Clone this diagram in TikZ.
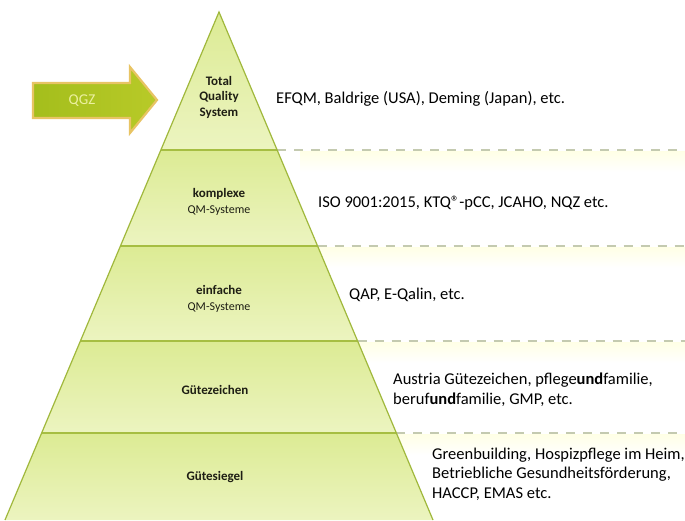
\documentclass[tikz,border=0pt]{standalone}
\usepackage{fontspec}
\setmainfont{Carlito}
\definecolor{pyrtop}{RGB}{220,235,148}
\definecolor{pyrbot}{RGB}{236,244,192}
\definecolor{pyrline}{RGB}{166,190,66}
\definecolor{pyredge}{RGB}{160,184,60}
\definecolor{dashc}{RGB}{196,202,176}
\definecolor{arrowfill}{RGB}{164,190,28}
\definecolor{arrowfill2}{RGB}{184,202,40}
\definecolor{arrowglow}{RGB}{232,196,100}
\definecolor{arrowtxt}{RGB}{236,240,160}
\definecolor{labtxt}{RGB}{30,30,20}
\tikzset{
  bandfill/.style={top color=pyrtop, bottom color=pyrbot, draw=none},
  levelline/.style={draw=pyrline, line width=1.8pt},
  dashline/.style={draw=dashc, line width=1.3pt, dash pattern=on 9pt off 8pt},
  righttext/.style={font=\fontsize{16.5}{19.5}\selectfont, text=black, inner sep=0pt, align=left},
  pyrlabel/.style={font=\fontsize{13}{15.5}\selectfont\bfseries, text=labtxt, align=center, inner sep=0pt},
}
\begin{document}
\begin{tikzpicture}[x=1pt,y=-1pt]
\useasboundingbox (0,0) rectangle (685,520);
\fill[white] (0,0) rectangle (685,520);

% faint glow under dashed lines
\foreach \yy in {150,246,341,433}{
  \shade[top color=yellow!10, bottom color=white, draw=none] (300,\yy+1) rectangle (685,\yy+22);
}

% pyramid
\coordinate (apex) at (219,12);
\coordinate (bl) at (5,520);
\coordinate (br) at (433,520);
\begin{scope}
  \clip (apex) -- (bl) -- (br) -- cycle;
  \shade[bandfill] (0,12) rectangle (440,150);
  \shade[bandfill] (0,150) rectangle (440,246);
  \shade[bandfill] (0,246) rectangle (440,341);
  \shade[bandfill] (0,341) rectangle (440,433);
  \shade[bandfill] (0,433) rectangle (440,521);
\end{scope}

% level lines
\coordinate (l1) at (160.9,150); \coordinate (r1) at (277.1,150); \coordinate (e1) at (685,150);
\coordinate (l2) at (120.4,246); \coordinate (r2) at (317.6,246); \coordinate (e2) at (685,246);
\coordinate (l3) at (80.4,341);  \coordinate (r3) at (357.6,341); \coordinate (e3) at (685,341);
\coordinate (l4) at (41.6,433);  \coordinate (r4) at (396.4,433); \coordinate (e4) at (685,433);
\draw[levelline] (l1) -- (r1);
\draw[levelline] (l2) -- (r2);
\draw[levelline] (l3) -- (r3);
\draw[levelline] (l4) -- (r4);
\draw[dashline] (r1) -- (e1);
\draw[dashline] (r2) -- (e2);
\draw[dashline] (r3) -- (e3);
\draw[dashline] (r4) -- (e4);

\draw[pyredge, line width=1.2pt] (bl) -- (apex) -- (br);

% arrow
\draw[arrowglow, line width=2.2pt, line join=miter, left color=arrowfill, right color=arrowfill2]
  (33,83) -- (130,83) -- (130,67) -- (157,100) -- (130,133) -- (130,118) -- (33,118) -- cycle;
\node[font=\fontsize{15}{17}\selectfont, text=arrowtxt, inner sep=0pt] (qgz) at (82,101) {QGZ};

% pyramid labels
\node[pyrlabel] (tqs) at (219,97) {Total\\Quality\\System};
\node[pyrlabel, align=center] (kqm) at (219,202) {komplexe\\{\mdseries\fontsize{12}{16}\selectfont QM-Systeme}};
\node[pyrlabel, align=center] (eqm) at (219,299) {einfache\\{\mdseries\fontsize{12}{16}\selectfont QM-Systeme}};
\node[pyrlabel] (gz) at (215,390) {Gütezeichen};
\node[pyrlabel] (gs) at (215,477) {Gütesiegel};

% right texts
\node[righttext, anchor=west] (t1) at (276,99) {EFQM, Baldrige (USA), Deming (Japan), etc.};
\node[righttext, anchor=west] (t2) at (318,203) {ISO 9001:2015, KTQ®-pCC, JCAHO, NQZ etc.};
\node[righttext, anchor=west] (t3) at (349,295) {QAP, E-Qalin, etc.};
\node[righttext, anchor=west] (t4) at (393,390) {Austria Gütezeichen, pflege\textbf{und}familie,\\beruf\textbf{und}familie, GMP, etc.};
\node[righttext, anchor=west] (t5) at (432,474) {Greenbuilding, Hospizpflege im Heim,\\Betriebliche Gesundheitsförderung,\\HACCP, EMAS etc.};
\end{tikzpicture}
\end{document}
